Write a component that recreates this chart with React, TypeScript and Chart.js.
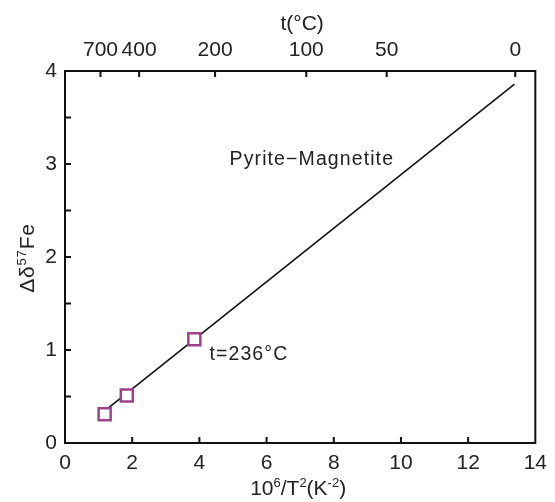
import React, { useEffect, useRef } from "react";
import { Chart, registerables } from "chart.js";

Chart.register(...registerables);

// Data
const SAMPLE_X = [1.18, 1.84, 3.85];
const SAMPLE_Y = [0.31, 0.51, 1.115];
const LINE_X = [1.2, 13.38];
const LINE_Y = [0.35, 3.86];
const TOP_TEMPS = [700, 400, 200, 100, 50, 0];
const TOP_TICK_LABELS = ["700", "400", "200", "100", "50", "0"];
const LINE_LABEL = "Pyrite\u2212Magnetite";
const POINT_LABEL = "t=236°C";
const LINE_LABEL_POS = { x: 4.9, y: 3.05 };
const POINT_LABEL_POS = { x: 4.3, y: 0.945 };

const FONT = "'Liberation Sans', Arial, sans-serif";
const PURPLE = "#a0428a";

type Part = { t: string; sup?: boolean };

function measureParts(ctx: CanvasRenderingContext2D, parts: Part[], size: number, supSize: number) {
  let w = 0;
  for (const p of parts) {
    ctx.font = `${p.sup ? supSize : size}px ${FONT}`;
    w += ctx.measureText(p.t).width;
  }
  return w;
}

function drawParts(ctx: CanvasRenderingContext2D, parts: Part[], cx: number, baseline: number, size: number, supSize: number, rise: number) {
  const w = measureParts(ctx, parts, size, supSize);
  let x = cx - w / 2;
  ctx.textAlign = "left";
  ctx.textBaseline = "alphabetic";
  for (const p of parts) {
    ctx.font = `${p.sup ? supSize : size}px ${FONT}`;
    ctx.fillText(p.t, x, p.sup ? baseline - rise : baseline);
    x += ctx.measureText(p.t).width;
  }
}

const decorPlugin = {
  id: "decor",
  afterDatasetsDraw(chart: any) {
    const ctx: CanvasRenderingContext2D = chart.ctx;
    const { left, right, top, bottom } = chart.chartArea;
    const xs = chart.scales.x;
    const ys = chart.scales.y;
    const x2 = chart.scales.x2;
    ctx.save();
    ctx.strokeStyle = "#111";
    ctx.lineWidth = 2;
    ctx.strokeRect(left, top, right - left, bottom - top);
    const TL = 6;
    ctx.beginPath();
    for (const t of ys.ticks) {
      if (t.value <= 0 || t.value >= 4) continue;
      const py = ys.getPixelForValue(t.value);
      ctx.moveTo(left, py);
      ctx.lineTo(left + TL, py);
    }
    for (const t of xs.ticks) {
      if (t.value <= 0 || t.value >= 14) continue;
      const px = xs.getPixelForValue(t.value);
      ctx.moveTo(px, bottom);
      ctx.lineTo(px, bottom - TL);
    }
    for (const t of x2.ticks) {
      const px = x2.getPixelForValue(t.value);
      ctx.moveTo(px, top);
      ctx.lineTo(px, top + TL);
    }
    ctx.stroke();

    ctx.fillStyle = "#222";
    // annotations
    ctx.font = `19.5px ${FONT}`;
    (ctx as any).letterSpacing = "1.1px";
    ctx.textAlign = "left";
    ctx.textBaseline = "middle";
    ctx.fillText(LINE_LABEL, xs.getPixelForValue(LINE_LABEL_POS.x), ys.getPixelForValue(LINE_LABEL_POS.y));
    ctx.fillText(POINT_LABEL, xs.getPixelForValue(POINT_LABEL_POS.x), ys.getPixelForValue(POINT_LABEL_POS.y));
    (ctx as any).letterSpacing = "0px";

    // axis titles
    drawParts(ctx, [{ t: "10" }, { t: "6", sup: true }, { t: "/T" }, { t: "2", sup: true }, { t: "(K" }, { t: "-2", sup: true }, { t: ")" }], (left + right) / 2 - 2, 495, 21, 13, 8);
    drawParts(ctx, [{ t: "t(°C)" }], (left + right) / 2 + 2, 30, 21, 13, 8);
    ctx.save();
    ctx.translate(34, (top + bottom) / 2 + 1);
    ctx.rotate(-Math.PI / 2);
    (ctx as any).letterSpacing = "0.8px";
    drawParts(ctx, [{ t: "Δδ" }, { t: "57", sup: true }, { t: "Fe" }], 0, 0, 21, 13, 8);
    (ctx as any).letterSpacing = "0px";
    ctx.restore();
    ctx.restore();
  },
};

export default function App() {
  const ref = useRef<HTMLCanvasElement>(null);
  useEffect(() => {
    document.body.style.margin = "0";
    const canvas = ref.current!;
    const tickFont = { family: FONT, size: 21 };
    const chart = new Chart(canvas, {
      type: "scatter",
      data: {
        datasets: [
          {
            label: "samples",
            data: SAMPLE_X.map((x, i) => ({ x, y: SAMPLE_Y[i] })),
            pointStyle: "rect",
            pointRadius: 8.5,
            pointBorderWidth: 2.5,
            pointBorderColor: PURPLE,
            pointBackgroundColor: "#ffffff",
            showLine: false,
          },
          {
            label: "line",
            data: LINE_X.map((x, i) => ({ x, y: LINE_Y[i] })),
            showLine: true,
            borderColor: "#111",
            borderWidth: 1.6,
            pointRadius: 0,
          },
        ],
      },
      options: {
        responsive: false,
        animation: false,
        layout: { padding: { left: 0, right: 14, top: 0, bottom: 0 } },
        plugins: { legend: { display: false }, tooltip: { enabled: false } },
        scales: {
          x: {
            type: "linear",
            position: "bottom",
            min: 0,
            max: 14,
            grid: { display: false, drawTicks: false },
            border: { display: false },
            ticks: { stepSize: 2, font: tickFont, color: "#222", padding: 8, maxRotation: 0 },
            afterFit: (s: any) => { s.height = 59; },
          },
          x2: {
            type: "linear",
            position: "top",
            min: 0,
            max: 14,
            grid: { display: false, drawTicks: false },
            border: { display: false },
            afterBuildTicks: (s: any) => {
              s.ticks = TOP_TEMPS.map((t) => ({ value: 1e6 / Math.pow(t + 273.15, 2) }));
            },
            ticks: {
              font: tickFont,
              color: "#222",
              padding: 8,
              maxRotation: 0,
              autoSkip: false,
              callback: (_v: any, i: number) => TOP_TICK_LABELS[i],
            },
            afterFit: (s: any) => { s.height = 71; },
          },
          y: {
            type: "linear",
            min: 0,
            max: 4,
            grid: { display: false, drawTicks: false },
            border: { display: false },
            ticks: {
              stepSize: 0.5,
              font: tickFont,
              color: "#222",
              padding: 8,
              callback: (v: any) => (Number.isInteger(v) ? String(v) : ""),
            },
            afterFit: (s: any) => { s.width = 65; },
          },
        },
      },
      plugins: [decorPlugin],
    } as any);
    return () => chart.destroy();
  }, []);
  return (
    <div style={{ width: 555, height: 502 }}>
      <canvas ref={ref} width={555} height={502} style={{ display: "block" }} />
    </div>
  );
}
